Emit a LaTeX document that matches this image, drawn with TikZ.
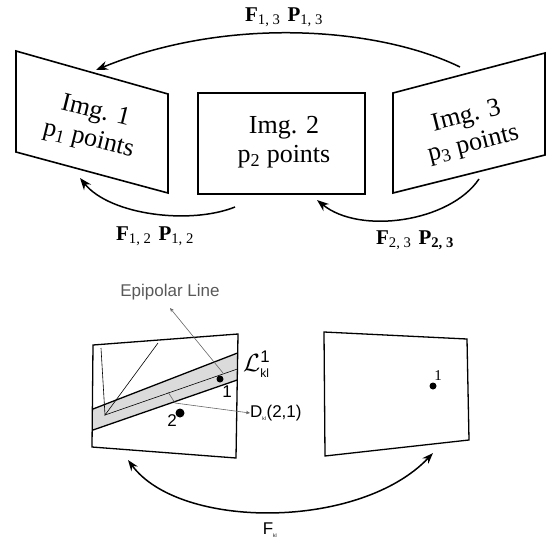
\documentclass[tikz,border=0pt]{standalone}
\usepackage{fontspec}
\setmainfont{Liberation Serif}
\setsansfont{Liberation Sans}
\usetikzlibrary{arrows.meta}
\begin{document}
\begin{tikzpicture}[x=1pt,y=-1pt,
  frame/.style={draw=black, line width=1.6pt, line join=miter},
  lowframe/.style={draw=black, line width=1.3pt, line join=miter},
  bandedge/.style={line width=1.3pt},
  thinline/.style={line width=0.6pt},
  flow/.style={line width=1.5pt, -{Stealth[length=12pt,width=9pt]}},
  twoway/.style={line width=1.5pt, {Stealth[length=11pt,width=8pt]}-{Stealth[length=11pt,width=8pt]}},
  imgtext/.style={font=\fontsize{26}{29}\selectfont, align=center, inner sep=0pt},
  fplabel/.style={font=\fontsize{21}{24}\selectfont, inner sep=0pt},
  sanslabel/.style={font=\sffamily\fontsize{17}{20}\selectfont, inner sep=0pt},
  pointer/.style={draw=gray!80!black, line width=0.6pt},
  dot/.style={circle, fill=black, inner sep=0pt},
]
\useasboundingbox (0,0) rectangle (554,542);

% ---------- upper part ----------
\coordinate (a1) at (16,51);  \coordinate (a2) at (168,94);
\coordinate (a3) at (168,193); \coordinate (a4) at (16,152);
\draw[frame] (a1)--(a2)--(a3)--(a4)--cycle;
\node[imgtext, rotate=-14] (t1) at (92,126) {Img. 1\\p\textsubscript{1} points};

\node[frame, minimum width=167pt, minimum height=101pt, inner sep=0pt] (box2) at (281.5,143.5) {};
\node[imgtext] (t2) at (284,142) {Img. 2\\p\textsubscript{2} points};

\coordinate (c1) at (393,93);  \coordinate (c2) at (545,53);
\coordinate (c3) at (545,155); \coordinate (c4) at (393,193);
\draw[frame] (c1)--(c2)--(c3)--(c4)--cycle;
\node[imgtext, rotate=14] (t3) at (470,131) {Img. 3\\p\textsubscript{3} points};

\coordinate (s13) at (460,67); \coordinate (e13) at (96,70);
\draw[flow] (s13) .. controls (380,28) and (230,15) .. (e13);
\node[fplabel] (l13) at (284,17) {\textbf{F}\textsubscript{1, 3}\,\,\textbf{P}\textsubscript{1, 3}};

\coordinate (s12) at (235,207); \coordinate (e12) at (80,178);
\draw[flow] (s12) .. controls (190,225) and (110,215) .. (e12);
\node[fplabel] (l12) at (155,236) {\textbf{F}\textsubscript{1, 2}\,\,\textbf{P}\textsubscript{1, 2}};

\coordinate (s23) at (479,179); \coordinate (e23) at (317,200);
\draw[flow] (s23) .. controls (450,222) and (360,235) .. (e23);
\node[fplabel] (l23) at (415,240) {\textbf{F}\textsubscript{2, 3}\,\,\textbf{P}\textsubscript{\textbf{2, 3}}};

% ---------- lower part ----------
\coordinate (b1) at (93,345);  \coordinate (b2) at (238,334);
\coordinate (b3) at (236,458); \coordinate (b4) at (92,447);
\coordinate (u1) at (93,409);  \coordinate (u2) at (237.5,353);
\coordinate (w1) at (93,430);  \coordinate (w2) at (237.2,380);
\fill[gray!28] (u1)--(u2)--(w2)--(w1)--cycle;
\draw[bandedge] (u1)--(u2);
\draw[bandedge] (w1)--(w2);
\coordinate (v0) at (101,348); \coordinate (v1) at (105,415);
\coordinate (v2) at (158,343); \coordinate (m2) at (237.4,369);
\draw[thinline] (v0)--(v1)--(v2);
\draw[thinline] (v1)--(m2);
\draw[lowframe] (b1)--(b2)--(b3)--(b4)--cycle;

\node[dot, minimum size=7pt] (p1) at (220,379) {};
\node[sanslabel] (n1) at (227,392) {1};
\node[dot, minimum size=9pt] (p2) at (180,413) {};
\node[sanslabel] (n2) at (172,421) {2};

\node[sanslabel, text=gray!70!black] (epi) at (170,292) {Epipolar Line};
\coordinate (epitip) at (170,308); \coordinate (epifoot) at (223,373);
\draw[pointer, -{Stealth[length=4pt,width=3.5pt]}] (epifoot) -- (epitip);

\node[anchor=west, inner sep=0pt, font=\fontsize{24}{28}\selectfont] (lkl) at (243,364)
  {$\mathcal{L}^{\mathsf{1}}_{\mathsf{\scriptscriptstyle kl}}$};

\node[sanslabel, anchor=west] (dkl) at (250,413) {D\textsubscript{\tiny kl}(2,1)};
\coordinate (d0) at (168,392); \coordinate (d1) at (175,403);
\draw[pointer, -{Stealth[length=4pt,width=3.5pt]}] (d0) -- (d1) -- (dkl.west);

\coordinate (r1) at (324,332); \coordinate (r2) at (467,339);
\coordinate (r3) at (469,440); \coordinate (r4) at (325,456);
\draw[lowframe] (r1)--(r2)--(r3)--(r4)--cycle;
\node[dot, minimum size=7pt] (q1) at (433,386) {};
\node[inner sep=0pt, font=\fontsize{15}{18}\selectfont] (nq) at (438,376) {1};

\coordinate (fl) at (128,460); \coordinate (fr) at (433,453);
\draw[twoway] (fl) .. controls (180,530) and (360,530) .. (fr);
\node[sanslabel] (fkl) at (270,530) {F\textsubscript{\tiny kl}};
\end{tikzpicture}
\end{document}
